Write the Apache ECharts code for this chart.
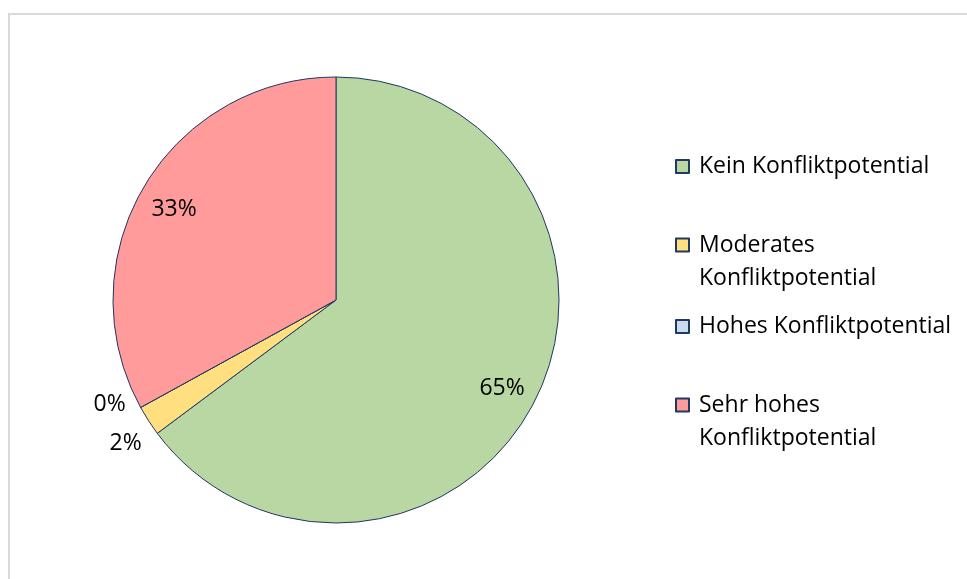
<!DOCTYPE html>
<html>
<head>
<meta charset="utf-8">
<script src="https://cdn.jsdelivr.net/npm/echarts@6/dist/echarts.min.js"></script>
<style>
  html, body { margin: 0; padding: 0; background: #fff; }
  #chart { width: 967px; height: 579px; }
</style>
</head>
<body>
<div id="chart"></div>
<script>
// Kategorien und Anteile (in %)
const categories = [
  "Kein Konfliktpotential",
  "Moderates Konfliktpotential",
  "Hohes Konfliktpotential",
  "Sehr hohes Konfliktpotential",
];
const shares = [64.8, 2.2, 0, 33.0];
// Legendentexte mit Zeilenumbruch wie im Original
const legendLabels = [
  "Kein Konfliktpotential",
  "Moderates\nKonfliktpotential",
  "Hohes Konfliktpotential",
  "Sehr hohes\nKonfliktpotential",
];
const palette = ["#b8d7a2", "#ffdf80", "#c9dcf0", "#ff9b9b"];

const FONT = "Open Sans";
const BORDER = "#1f3864";
const CX = 336, CY = 300, R = 223;

const chart = echarts.init(document.getElementById("chart"));

const pieData = categories.map((name, i) => ({
  name: name,
  value: shares[i],
  itemStyle: { color: palette[i] },
}));

const pctFormatter = (p) => Math.round(p.percent) + "%";

//große Segmente: Beschriftung innen (ca. 0.82 r)
const bigLabels = categories.map((name, i) => ({
  name: name,
  value: shares[i],
  label: { show: shares[i] >= 5 },
}));
//kleine Segmente: Beschriftung außen (ca. 1.14 r)
const smallLabels = categories.map((name, i) => ({
  name: name,
  value: shares[i],
  label: {
    show: shares[i] < 5,
    offset: shares[i] < 1 ? [-1, -19] : [6, 4],
  },
}));

//eine Legende pro Eintrag, damit das Kästchen an der ersten Zeile sitzt
const legendTops = [150, 195.5, 310, 355.5];
const legends = categories.map((name, i) => {
  const twoLines = legendLabels[i].indexOf("\n") >= 0;
  return {
    data: [name],
    orient: "vertical",
    left: 675,
    top: legendTops[i],
    padding: 0,
    icon: "rect",
    itemWidth: 13,
    itemHeight: 13,
    selectedMode: false,
    //leere erste Zeile: erste Textzeile steht auf Höhe des Kästchens
    formatter: () => (twoLines ? "\n" : "") + legendLabels[i],
    textStyle: {
      fontFamily: FONT,
      fontSize: 23,
      lineHeight: 33,
      color: "#000",
      padding: [0, 0, 0, 5],
    },
  };
});

const option = {
  animation: false,
  backgroundColor: "#fff",
  graphic: [
    {
      type: "line",
      shape: { x1: 8, y1: 14, x2: 967, y2: 14 },
      style: { stroke: "#d9d9d9", lineWidth: 2 },
      silent: true,
    },
    {
      type: "line",
      shape: { x1: 9, y1: 13, x2: 9, y2: 579 },
      style: { stroke: "#d9d9d9", lineWidth: 2 },
      silent: true,
    },
  ],
  legend: legends,
  series: [
    {
      type: "pie",
      center: [CX, CY],
      radius: [0, R],
      startAngle: 90,
      clockwise: true,
      label: { show: false },
      labelLine: { show: false },
      emphasis: { disabled: true },
      itemStyle: { borderColor: BORDER, borderWidth: 1 },
      data: pieData,
    },
    {
      type: "pie",
      center: [CX, CY],
      radius: [R * 0.65, R],
      startAngle: 90,
      clockwise: true,
      silent: true,
      itemStyle: { color: "transparent", borderWidth: 0 },
      label: {
        position: "inside",
        formatter: pctFormatter,
        fontFamily: FONT,
        fontSize: 23,
        color: "#000",
        offset: [-1, 5],
      },
      labelLine: { show: false },
      emphasis: { disabled: true },
      data: bigLabels,
    },
    {
      type: "pie",
      center: [CX, CY],
      radius: [R, R * 1.28],
      startAngle: 90,
      clockwise: true,
      silent: true,
      itemStyle: { color: "transparent", borderWidth: 0 },
      label: {
        position: "inside",
        formatter: pctFormatter,
        fontFamily: FONT,
        fontSize: 23,
        color: "#000",
      },
      labelLine: { show: false },
      emphasis: { disabled: true },
      data: smallLabels,
    },
  ],
};

chart.setOption(option);
</script>
</body>
</html>
